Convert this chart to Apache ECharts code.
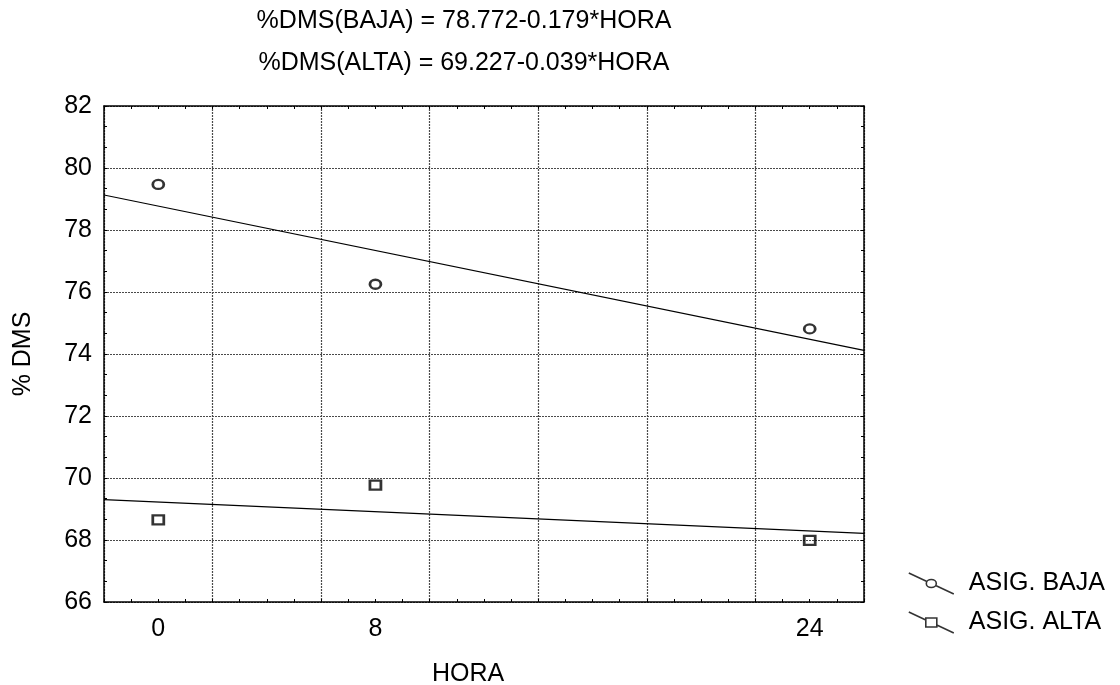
<!DOCTYPE html>
<html>
<head>
<meta charset="utf-8">
<script src="https://cdn.jsdelivr.net/npm/echarts@6/dist/echarts.min.js"></script>
<style>
  html, body { margin: 0; padding: 0; background: #fff; }
  #chart { width: 1120px; height: 685px; }
</style>
</head>
<body>
<div id="chart"></div>
<script>
// Sampling hours and measured %DMS for each assignment level
const seriesNames = ['ASIG. BAJA', 'ASIG. ALTA'];
const hours = [0, 8, 24];
const dmsBaja = [79.47, 76.25, 74.81];
const dmsAlta = [68.65, 69.77, 67.99];

// Fitted linear models: %DMS = intercept + slope * HORA
const fitTags = ['BAJA', 'ALTA'];
const intercepts = [78.772, 69.227];
const slopes = [-0.179, -0.039];

// Axis settings
const xTickLabels = [0, 8, 24];
const xRange = [-2, 26];
const yRange = [66, 82];

const FONT = 'Liberation Sans, Arial, sans-serif';
const FS = 25;

const fitLine = (i) => xRange.map(x => [x, +(intercepts[i] + slopes[i] * x).toFixed(3)]);
const equation = (i) =>
  '%DMS(' + fitTags[i] + ') = ' + intercepts[i].toFixed(3) + '-' +
  Math.abs(slopes[i]).toFixed(3) + '*HORA';

const gridLine = { show: true, lineStyle: { color: '#4a4a4a', width: 1.2, type: [2, 1] } };
const frameLine = { show: true, onZero: false, lineStyle: { color: '#000', width: 1.5 } };

function xAxisDef(pos, withLabels) {
  return {
    type: 'value', position: pos, min: xRange[0], max: xRange[1], interval: 4,
    axisLine: frameLine,
    axisTick: { show: true, inside: true, length: 3, lineStyle: { color: '#000' } },
    minorTick: { show: true, splitNumber: 4, length: 3, lineStyle: { color: '#000' } },
    splitLine: withLabels ? gridLine : { show: false },
    axisLabel: withLabels ? {
      show: true, customValues: xTickLabels, margin: 15,
      color: '#000', fontFamily: FONT, fontSize: FS
    } : { show: false },
    name: withLabels ? 'HORA' : '',
    nameLocation: 'middle', nameGap: 60,
    nameTextStyle: { color: '#000', fontFamily: FONT, fontSize: FS, padding: [0, 32, 0, 0] }
  };
}

function yAxisDef(pos, withLabels) {
  return {
    type: 'value', position: pos, min: yRange[0], max: yRange[1], interval: 2,
    axisLine: frameLine,
    axisTick: { show: true, inside: true, length: 3, lineStyle: { color: '#000' } },
    minorTick: { show: true, splitNumber: 3, length: 3, lineStyle: { color: '#000' } },
    splitLine: withLabels ? gridLine : { show: false },
    axisLabel: withLabels ? {
      show: true, margin: 12, color: '#000', fontFamily: FONT, fontSize: FS
    } : { show: false },
    name: withLabels ? '% DMS' : '',
    nameLocation: 'middle', nameGap: 68, nameRotate: 90,
    nameTextStyle: { color: '#000', fontFamily: FONT, fontSize: FS }
  };
}

// Legend icons: a slanted stroke with the series marker at its centre
const iconCircle = 'path://M0,0 L17.6,8.2 M27.4,12.8 L45,21 M17.5,10.5 A5,4 0 1,0 27.5,10.5 A5,4 0 1,0 17.5,10.5 Z';
const iconSquare = 'path://M0,0 L17,7.9 M28,13.1 L45,21 M17,6 L28,6 L28,15 L17,15 Z';

const chart = echarts.init(document.getElementById('chart'), null, { renderer: 'canvas' });

const option = {
  backgroundColor: '#fff',
  animation: false,
  textStyle: { fontFamily: FONT },
  graphic: [0, 1].map(i => ({
    type: 'text', x: 464, y: 21 + 42 * i,
    style: {
      text: equation(i), fill: '#000', font: FS + 'px ' + FONT,
      align: 'center', verticalAlign: 'middle'
    }
  })),
  grid: { left: 104, right: 256, top: 106, bottom: 83, outerBoundsMode: 'none', containLabel: false },
  xAxis: [xAxisDef('bottom', true), xAxisDef('top', false)],
  yAxis: [yAxisDef('left', true), yAxisDef('right', false)],
  legend: {
    orient: 'vertical', left: 903, top: 566,
    itemWidth: 45, itemHeight: 21, itemGap: 14,
    textStyle: { color: '#000', fontFamily: FONT, fontSize: FS, padding: [0, 0, 0, 10] },
    data: [
      { name: seriesNames[0], icon: iconCircle,
        itemStyle: { color: 'transparent', borderColor: '#000', borderWidth: 1.6 } },
      { name: seriesNames[1], icon: iconSquare,
        itemStyle: { color: 'transparent', borderColor: '#000', borderWidth: 1.6 } }
    ]
  },
  series: [
    {
      name: seriesNames[0], type: 'scatter', symbol: 'circle', symbolSize: [11, 9],
      itemStyle: { color: 'transparent', borderColor: '#000', borderWidth: 2.5 },
      data: hours.map((h, k) => [h, dmsBaja[k]]), z: 5
    },
    {
      name: seriesNames[1], type: 'scatter', symbol: 'rect', symbolSize: [11, 9],
      itemStyle: { color: 'transparent', borderColor: '#000', borderWidth: 2.5 },
      data: hours.map((h, k) => [h, dmsAlta[k]]), z: 5
    },
    {
      name: 'fit-baja', type: 'line', data: fitLine(0), showSymbol: false,
      lineStyle: { color: '#000', width: 1.2 }, silent: true
    },
    {
      name: 'fit-alta', type: 'line', data: fitLine(1), showSymbol: false,
      lineStyle: { color: '#000', width: 1.2 }, silent: true
    }
  ]
};

chart.setOption(option);
</script>
</body>
</html>
